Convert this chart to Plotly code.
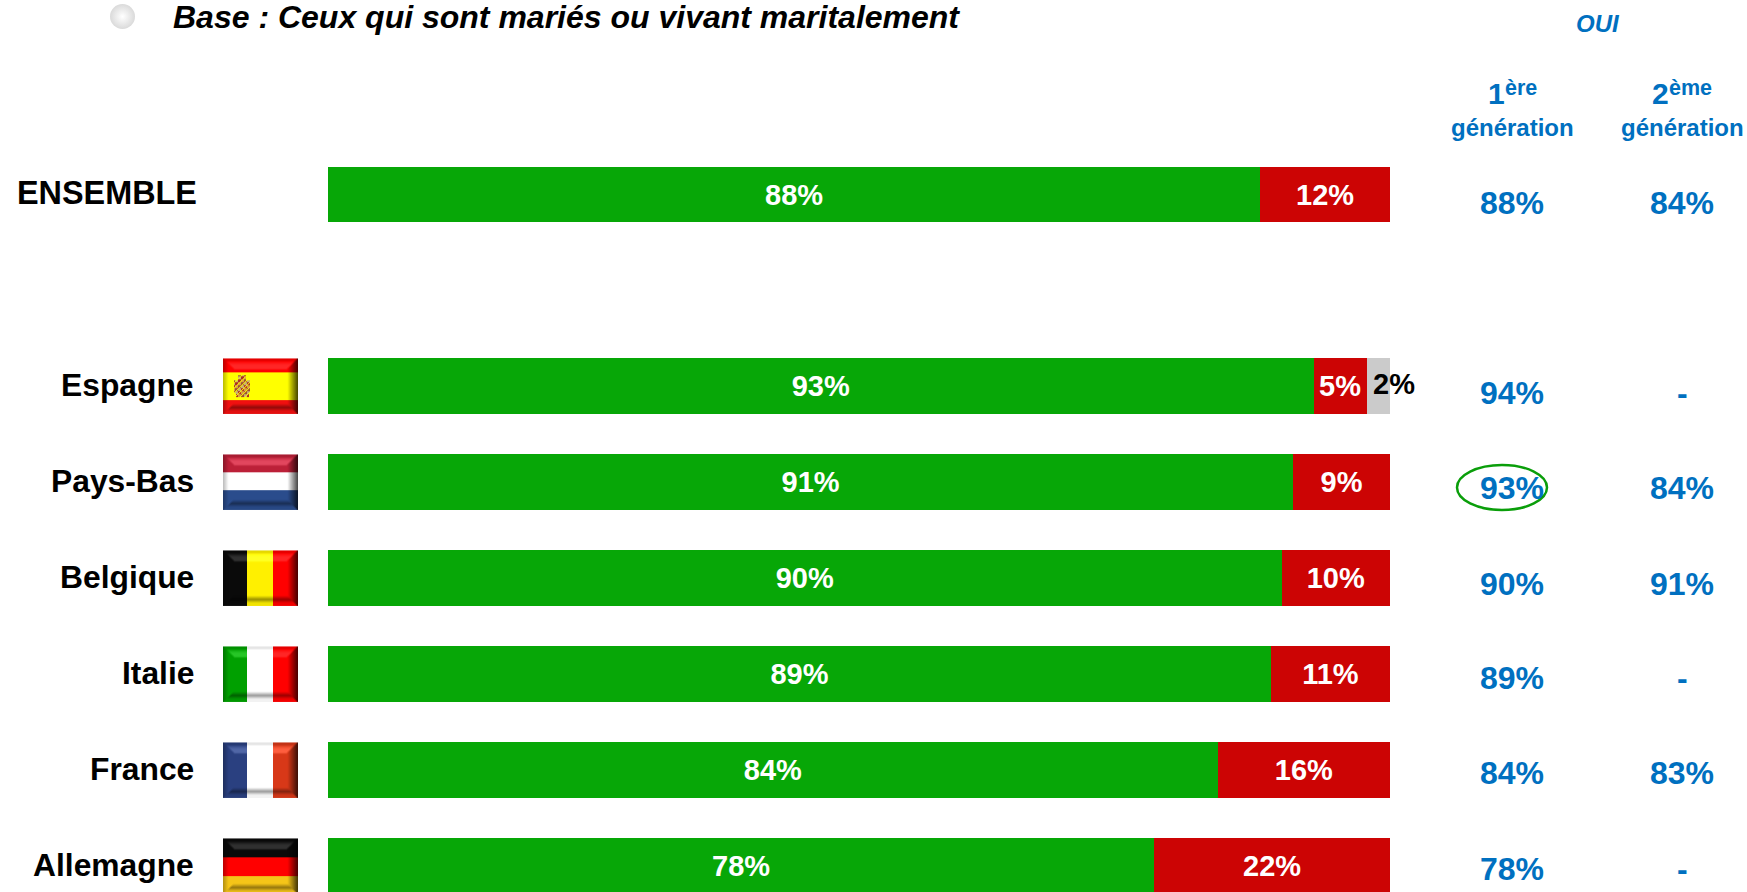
import base64, struct, zlib
import numpy as np
import plotly.graph_objects as go

W, H = 1747, 892
categories = ["ENSEMBLE", "Espagne", "Pays-Bas", "Belgique", "Italie", "France", "Allemagne"]
rows = [0.005, 2, 3, 4, 5, 6, 7]
oui = [87.8, 92.8, 90.9, 89.8, 88.8, 83.8, 77.8]
non = [12.2, 5.0, 9.1, 10.2, 11.2, 16.2, 22.2]
nsp = [0, 2.2, 0, 0, 0, 0, 0]
gen1 = ["88%", "94%", "93%", "90%", "89%", "84%", "78%"]
gen2 = ["84%", "-", "84%", "91%", "-", "83%", "-"]

GREEN, RED, GREY, BLUE = "#07A707", "#CC0404", "#CBCBCB", "#0070C0"
FONT = "Liberation Sans"

# layout geometry in page pixels
BAR_L, BAR_R, ROW0, ROW_H, BAR_H = 328, 1390, 194.2, 96, 55.5
COL1, COL2 = 1512, 1682
gen_y = [203, 393, 488, 584, 678, 773, 869]
label_y = [193, 385, 481, 577, 673, 769, 865]


def X(p):
    return p / W


def Y(p):
    return 1 - p / H


# ---- bevelled flag pictures -------------------------------------------------
def hexrgb(h):
    return [int(h[i:i + 2], 16) for i in (1, 3, 5)]


def png_uri(a):
    h, w, _ = a.shape
    raw = b"".join(b"\x00" + a[i].tobytes() for i in range(h))

    def chunk(t, d):
        c = struct.pack(">I", len(d)) + t + d
        return c + struct.pack(">I", zlib.crc32(t + d))

    data = b"\x89PNG\r\n\x1a\n" + chunk(b"IHDR", struct.pack(">IIBBBBB", w, h, 8, 2, 0, 0, 0))
    data += chunk(b"IDAT", zlib.compress(raw)) + chunk(b"IEND", b"")
    return "data:image/png;base64," + base64.b64encode(data).decode()


def blur(m):
    p = np.pad(m, 1, mode="edge")
    return (p[:-2, 1:-1] + p[2:, 1:-1] + p[1:-1, :-2] + p[1:-1, 2:] + 2 * m) / 6


def flag(bands, vertical, w=75, h=56, crest=False):
    a = np.zeros((h, w, 3), float)
    start = 0
    for stop, col in bands:
        if vertical:
            a[:, start:stop] = hexrgb(col)
        else:
            a[start:stop, :] = hexrgb(col)
        start = stop
    if crest:
        cols = [hexrgb(c) for c in ("#B03020", "#D8A040", "#A05030", "#C8B070")]
        for y in range(17, 39):
            half = 4 if y < 22 else 8
            for x in range(19 - half, 19 + half):
                if (y > 34 and abs(x - 19) > 6) or (x + y) % 5 == 0:
                    continue
                a[y, x] = cols[(x // 3 + y // 3) % 4]
    f = np.ones((h, w))
    add = np.zeros((h, w))
    for y in range(h):
        for x in range(w):
            d_top, d_bot, d_l, d_r = y, h - 1 - y, x, w - 1 - x
            if d_r < 10 and d_r <= d_top and d_r <= d_bot:
                f[y, x] = 0.3 + 0.7 * d_r / 10
            elif d_l < 5 and d_l <= d_top and d_l <= d_bot:
                f[y, x] = 0.75 + 0.25 * d_l / 5
            elif d_top < 3:
                f[y, x] = 0.9
            elif d_top < 11 and d_l > d_top and d_r > d_top:
                add[y, x] = 38 * min(1, (d_top - 2) / 4)
            elif d_bot < 3:
                f[y, x] = 0.95
            elif d_bot < 10 and d_l > d_bot and d_r > d_bot:
                f[y, x] = 0.6 + 0.4 * abs(d_bot - 6) / 4
    f, add = blur(f), blur(add)
    out = np.clip(a * f[..., None] + add[..., None], 0, 255).astype(np.uint8)
    return png_uri(out)


flags = [
    None,
    flag([(14, "#FF0000"), (42, "#FFFF00"), (56, "#F01010")], False, crest=True),
    flag([(18, "#BC2038"), (36, "#FFFFFF"), (56, "#2A4C8C")], False),
    flag([(24, "#0A0A0A"), (50, "#FFF000"), (75, "#FF0000")], True),
    flag([(24, "#00A000"), (50, "#FFFFFF"), (75, "#FF0000")], True),
    flag([(24, "#2A4080"), (50, "#FFFFFF"), (75, "#D83818")], True),
    flag([(19, "#0A0A0A"), (38, "#FF0000"), (56, "#F5C518")], False),
]

# ---- bars -------------------------------------------------------------------
fig = go.Figure()
txt = dict(family=FONT, size=29, color="white", weight="bold")
fig.add_bar(y=rows, x=oui, orientation="h", marker=dict(color=GREEN, line_width=0),
            text=[f"{round(v)}%" for v in oui], textposition="inside", insidetextanchor="middle",
            textangle=0, constraintext="none", textfont=txt)
fig.add_bar(y=rows, x=non, orientation="h", marker=dict(color=RED, line_width=0),
            text=[f"{round(v)}%" for v in non], textposition="inside", insidetextanchor="middle",
            textangle=0, constraintext="none", textfont=txt)
fig.add_bar(y=rows, x=nsp, orientation="h", marker=dict(color=GREY, line_width=0))

# bullet
fig.add_scatter(x=[0], y=[0], xaxis="x2", yaxis="y2", mode="markers", cliponaxis=False,
                marker=dict(size=25, color="#DADADA", line_width=0,
                            gradient=dict(type="radial", color="#FFFFFF")))

ann = []


def text(x, y, s, size, color="black", anchor="center", italic=False):
    ann.append(dict(x=X(x), y=Y(y), xref="paper", yref="paper", text=s, showarrow=False,
                    xanchor=anchor, yanchor="middle", align=anchor,
                    font=dict(family=FONT, size=size, color=color, weight="bold",
                              style="italic" if italic else "normal")))


text(171, 17, "Base : Ceux qui sont mariés ou vivant maritalement", 32, anchor="left", italic=True)
text(1598, 24, "OUI", 24, BLUE, italic=True)
text(1507, 93, "1", 30, BLUE, anchor="right")
text(1503, 88.5, "ère", 21.5, BLUE, anchor="left")
text(1671, 93, "2", 30, BLUE, anchor="right")
text(1667, 88.5, "ème", 21.5, BLUE, anchor="left")
text(COL1, 127, "génération", 24, BLUE)
text(COL2, 127, "génération", 24, BLUE)

for i, c in enumerate(categories):
    text(199 if i == 0 else 196, label_y[i], c, 32.4 if i == 0 else 31.8, anchor="right")
    text(COL1, gen_y[i], gen1[i], 32, BLUE)
    text(COL2, gen_y[i], gen2[i], 32, BLUE)
    if nsp[i]:
        ann.append(dict(x=oui[i] + non[i] + nsp[i] / 2, y=rows[i], xref="x", yref="y",
                        text=f"{round(nsp[i])}%", showarrow=False, xshift=16, yshift=2,
                        font=dict(family=FONT, size=29, color="black", weight="bold")))

images = []
for i, src in enumerate(flags):
    if src:
        images.append(dict(source=src, xref="paper", yref="paper", x=X(223), y=Y(ROW0 + rows[i] * ROW_H - BAR_H / 2),
                           sizex=75 / W, sizey=BAR_H / H, xanchor="left", yanchor="top",
                           sizing="stretch", layer="above"))

shapes = [dict(type="circle", xref="paper", yref="paper", x0=X(1457), x1=X(1547), y0=Y(465), y1=Y(510),
               line=dict(color="#0A9E0A", width=2.5), fillcolor="rgba(0,0,0,0)", layer="above")]

fig.update_layout(
    width=W, height=H, autosize=False, margin=dict(l=0, r=0, t=0, b=0, pad=0),
    paper_bgcolor="white", plot_bgcolor="white", showlegend=False, barmode="stack", bargap=1 - BAR_H / ROW_H,
    xaxis=dict(domain=[X(BAR_L), X(BAR_R)], range=[0, 100], visible=False, fixedrange=True),
    yaxis=dict(domain=[0, 1], range=[(H - ROW0) / ROW_H, -ROW0 / ROW_H], visible=False, fixedrange=True),
    xaxis2=dict(domain=[X(110), X(135)], range=[-1, 1], visible=False, anchor="y2"),
    yaxis2=dict(domain=[Y(29), Y(4)], range=[-1, 1], visible=False, anchor="x2"),
    annotations=ann, images=images, shapes=shapes, hovermode=False,
)
fig.write_html("out.html", config=dict(displayModeBar=False),
               post_script="document.body.style.margin='0';document.documentElement.style.overflow='hidden';")
